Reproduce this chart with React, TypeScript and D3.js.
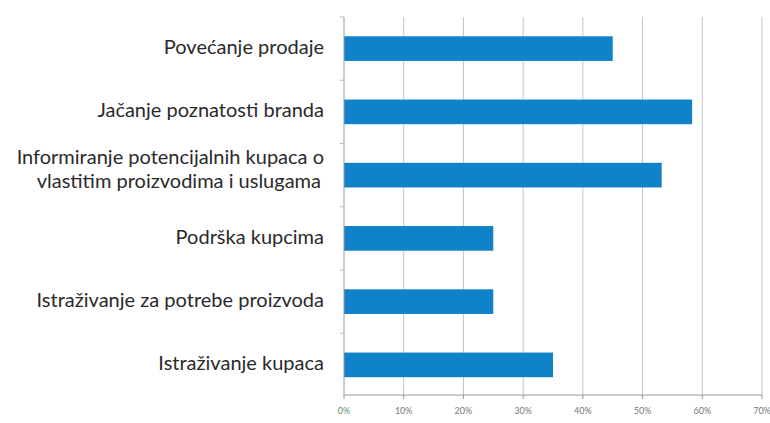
import React from "react";
import * as d3 from "d3";

const categories = [
  "Povećanje prodaje",
  "Jačanje poznatosti branda",
  "Informiranje potencijalnih kupaca o|vlastitim proizvodima i uslugama",
  "Podrška kupcima",
  "Istraživanje za potrebe proizvoda",
  "Istraživanje kupaca",
];
const values = [45, 58.3, 53.2, 25, 25, 35];
const xTicks = [0, 10, 20, 30, 40, 50, 60, 70];

const W = 770;
const H = 423;
const margin = { top: 17, right: 8, bottom: 26, left: 344 };

const App: React.FC = () => {
  const x = d3.scaleLinear().domain([0, 70]).range([margin.left, 762]);
  const y = d3
    .scaleBand<string>()
    .domain(categories)
    .range([margin.top, H - margin.bottom - 0.5])
    .paddingInner(0.61)
    .paddingOuter(0.305);
  const axisY = H - margin.bottom - 2;
  const bounds = categories.map((_, i) => margin.top + i * y.step());

  return (
    <svg
      width={W}
      height={H}
      style={{ position: "absolute", left: 0, top: 0, background: "#fff" }}
      fontFamily="Lato, 'Open Sans', sans-serif"
    >
      {/* vertical gridlines */}
      {xTicks.slice(1).map((t) => (
        <line
          key={"g" + t}
          x1={x(t)}
          x2={x(t)}
          y1={margin.top}
          y2={axisY}
          stroke="#c4c4c4"
          strokeWidth={1}
        />
      ))}
      {/* bars */}
      {categories.map((c, i) => (
        <rect
          key={c}
          x={x(0)}
          y={y(c)}
          width={x(values[i]) - x(0)}
          height={y.bandwidth()}
          fill="#0f82c8"
        />
      ))}
      {/* left axis */}
      <line x1={x(0)} x2={x(0)} y1={margin.top} y2={axisY} stroke="#9a9a9a" />
      {bounds.map((b, i) => (
        <line key={"yt" + i} x1={x(0) - 4} x2={x(0)} y1={b} y2={b} stroke="#bbb" />
      ))}
      {/* bottom axis */}
      <line x1={x(0)} x2={x(70)} y1={axisY} y2={axisY} stroke="#9a9a9a" />
      {xTicks.map((t) => (
        <g key={"xt" + t}>
          <line x1={x(t)} x2={x(t)} y1={axisY} y2={axisY + 4} stroke="#9a9a9a" />
          <text
            x={x(t)}
            y={axisY + 19}
            textAnchor="middle"
            fontSize={9}
            fill={t === 0 ? "#5f8f6a" : "#777"}
          >
            {t + "%"}
          </text>
        </g>
      ))}
      {/* category labels */}
      {categories.map((c) => {
        const lines = c.split("|");
        const multi = lines.length > 1;
        const cy = (y(c) ?? 0) + y.bandwidth() / 2 + (multi ? -5 : 0);
        const lh = 24;
        return (
          <text key={"l" + c} textAnchor="end" fontSize={20} fill="#2a2a2a">
            {lines.map((ln, j) => (
              <tspan
                key={j}
                x={multi && j > 0 ? 321 : 324}
                y={cy + 5.5 + (j - (lines.length - 1) / 2) * lh}
              >
                {ln}
              </tspan>
            ))}
          </text>
        );
      })}
    </svg>
  );
};

export default App;
